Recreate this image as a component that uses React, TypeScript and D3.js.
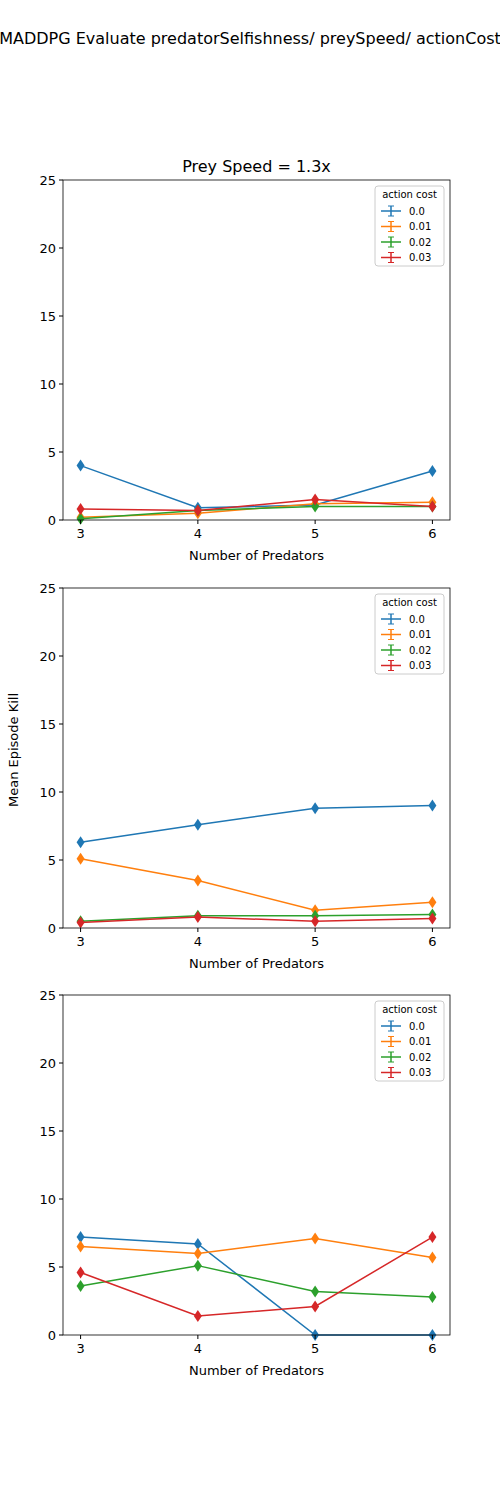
import React from 'react';
import * as d3 from 'd3';

const predators = [3, 4, 5, 6];
const costLabels = ['0.0', '0.01', '0.02', '0.03'];
const colors = ['#1f77b4', '#ff7f0e', '#2ca02c', '#d62728'];
const yTicks = [0, 5, 10, 15, 20, 25];

// panel -> series (per action cost) -> values per predator count
const panel1 = [
  [4.0, 0.9, 1.1, 3.6],
  [0.2, 0.5, 1.2, 1.3],
  [0.1, 0.7, 1.0, 1.0],
  [0.8, 0.7, 1.5, 1.0],
];
const panel2 = [
  [6.3, 7.6, 8.8, 9.0],
  [5.1, 3.5, 1.3, 1.9],
  [0.5, 0.9, 0.9, 1.0],
  [0.4, 0.8, 0.5, 0.7],
];
const panel3 = [
  [7.2, 6.7, 0.0, 0.0],
  [6.5, 6.0, 7.1, 5.7],
  [3.6, 5.1, 3.2, 2.8],
  [4.6, 1.4, 2.1, 7.2],
];
const panels = [panel1, panel2, panel3];
const panelTops = [180, 588, 995];

const left = 63;
const right = 450;
const ph = 340;

const x = d3.scaleLinear().domain([2.85, 6.15]).range([left, right]);

const Panel: React.FC<{ data: number[][]; top: number; title?: string }> = ({ data, top, title }) => {
  const y = d3.scaleLinear().domain([0, 25]).range([top + ph, top]);
  const line = d3
    .line<number>()
    .x((_, i) => x(predators[i]))
    .y(d => y(d));
  const diamond = 'M0,-6 L4,0 L0,6 L-4,0 Z';
  return (
    <g>
      {title && (
        <text x={(left + right) / 2} y={top - 8} textAnchor="middle" fontSize={16}>
          {title}
        </text>
      )}
      {data.map((s, k) => (
        <g key={k}>
          <path d={line(s) || ''} fill="none" stroke={colors[k]} strokeWidth={1.5} />
          {s.map((v, i) => (
            <path key={i} d={diamond} transform={`translate(${x(predators[i])},${y(v)})`} fill={colors[k]} />
          ))}
        </g>
      ))}
      <rect x={left} y={top} width={right - left} height={ph} fill="none" stroke="#000" strokeWidth={0.8} />
      {yTicks.map(t => (
        <g key={t} transform={`translate(${left},${y(t)})`}>
          <line x2={-4} stroke="#000" />
          <text x={-7} dy="0.35em" textAnchor="end" fontSize={13}>{t}</text>
        </g>
      ))}
      {predators.map(p => (
        <g key={p} transform={`translate(${x(p)},${top + ph})`}>
          <line y2={4} stroke="#000" />
          <text y={18} textAnchor="middle" fontSize={13}>{p}</text>
        </g>
      ))}
      <text x={(left + right) / 2} y={top + ph + 40} textAnchor="middle" fontSize={13}>
        Number of Predators
      </text>
      <g transform={`translate(375,${top + 6})`}>
        <rect width={69} height={80} rx={3} fill="#fff" fillOpacity={0.8} stroke="#ccc" />
        <text x={34.5} y={12} textAnchor="middle" fontSize={10}>action cost</text>
        {costLabels.map((c, k) => (
          <g key={c} transform={`translate(6,${25 + k * 15.5})`}>
            <line x1={0} x2={20} stroke={colors[k]} strokeWidth={1.5} />
            <line x1={10} x2={10} y1={-5} y2={5} stroke={colors[k]} strokeWidth={1.5} />
            <line x1={7} x2={13} y1={-5} y2={-5} stroke={colors[k]} />
            <line x1={7} x2={13} y1={5} y2={5} stroke={colors[k]} />
            <text x={28} dy="0.35em" fontSize={10}>{c}</text>
          </g>
        ))}
      </g>
    </g>
  );
};

export default function App() {
  return (
    <svg width={500} height={1500} style={{ position: 'absolute', left: 0, top: 0, background: '#fff' }}
      fontFamily="DejaVu Sans, sans-serif">
      <text x={250} y={44} textAnchor="middle" fontSize={16}>
        MADDPG Evaluate predatorSelfishness/ preySpeed/ actionCost
      </text>
      <text transform="translate(18,750) rotate(-90)" textAnchor="middle" fontSize={13}>
        Mean Episode Kill
      </text>
      {panels.map((p, i) => (
        <Panel key={i} data={p} top={panelTops[i]} title={i === 0 ? 'Prey Speed = 1.3x' : undefined} />
      ))}
    </svg>
  );
}
